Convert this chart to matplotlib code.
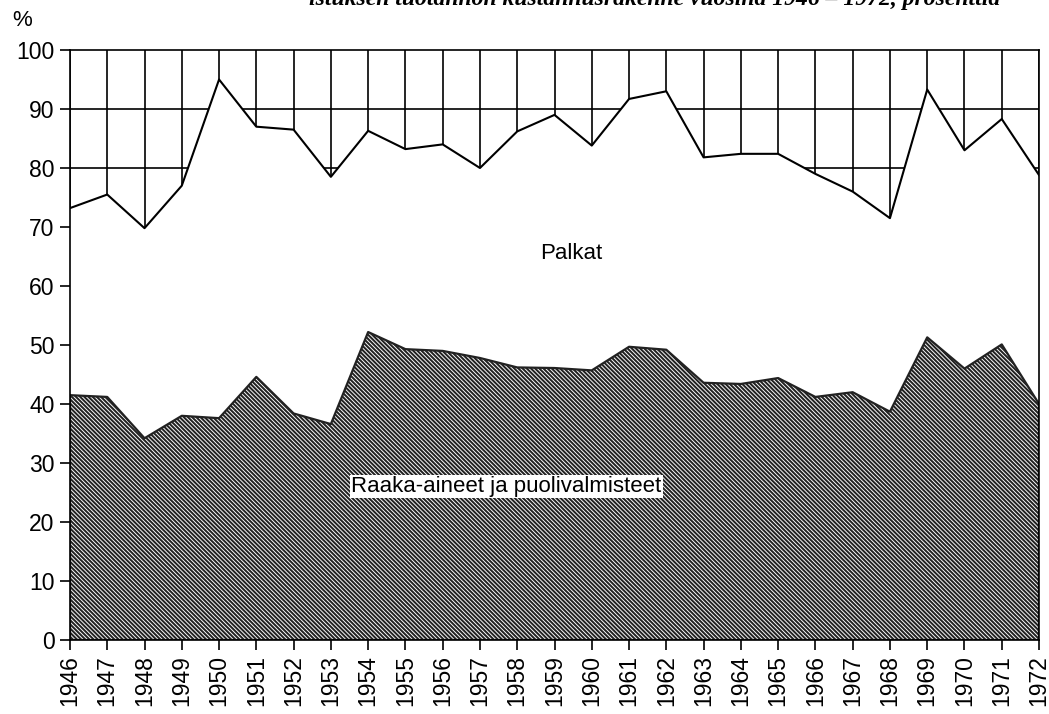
import matplotlib
matplotlib.use("Agg")
import matplotlib.pyplot as plt

plt.rcParams['font.family'] = ['Liberation Sans', 'DejaVu Sans']
plt.rcParams['hatch.linewidth'] = 1.45

years = list(range(1946, 1973))

# Upper boundary: raw materials + wages (share of production value, %)
upper = [73.2, 75.5, 69.8, 77.0, 95.0, 87.0, 86.5, 78.5, 86.3, 83.2,
         84.0, 80.0, 86.2, 89.0, 83.8, 91.7, 93.0, 81.8, 82.4, 82.4,
         79.0, 76.0, 71.5, 93.3, 83.0, 88.3, 78.8]
# Lower boundary: raw materials and semi-finished goods (%)
lower = [41.5, 41.2, 34.2, 38.0, 37.6, 44.6, 38.4, 36.6, 52.2, 49.3,
         49.0, 47.8, 46.2, 46.1, 45.7, 49.7, 49.2, 43.6, 43.4, 44.4,
         41.2, 42.0, 38.7, 51.3, 46.0, 50.1, 40.0]

yticks = [0, 10, 20, 30, 40, 50, 60, 70, 80, 90, 100]
grid_levels = [80, 90]
label_wages = "Palkat"
label_materials = "Raaka-aineet ja puolivalmisteet"
title = "istuksen tuotannon kustannusrakenne vuosina 1946 – 1972, prosenttia"

fig = plt.figure(figsize=(10.49, 7.14), dpi=100)
ax = fig.add_axes([0.0667, 0.1036, 0.9238, 0.8264])

lw = 1.2
# Grid in the top band (other costs); the white fill hides it below the line
ax.set_xticks(years)
ax.xaxis.grid(True, color='black', linewidth=lw, zorder=0)
for g in grid_levels:
    ax.axhline(g, color='black', linewidth=lw, zorder=0.5)

ax.fill_between(years, 0, upper, facecolor='white', edgecolor='none', zorder=1)
ax.plot(years, upper, color='black', linewidth=1.5, zorder=3)
ax.fill_between(years, 0, lower, facecolor='white', edgecolor='#222222',
                hatch='\\' * 8, linewidth=1.6, zorder=2)

ax.text(1959.45, 65.5, label_wages, fontsize=16, ha='center', va='center', zorder=4)
ax.text(1957.7, 26.0, label_materials, fontsize=16, ha='center', va='center', zorder=4,
        bbox=dict(facecolor='white', edgecolor='none', pad=1.0))

ax.set_xlim(1946, 1972)
ax.set_ylim(0, 100)
ax.set_yticks(yticks)
ax.set_xticklabels([str(y) for y in years], rotation=90)
ax.tick_params(axis='both', labelsize=16.5, length=7, width=1.2, direction='out',
               pad=4)
for s in ax.spines.values():
    s.set_linewidth(1.2)
    s.set_zorder(5)
ax.set_axisbelow(True)

fig.text(22 / 1049, 1 - 20 / 714, "%", fontsize=16, ha='center', va='center')
fig.text(1000 / 1049, 1.0, title, fontsize=17, ha='right', va='center',
         family=['Liberation Serif'], style='italic', weight='bold')

fig.savefig("out.png", dpi=100)
